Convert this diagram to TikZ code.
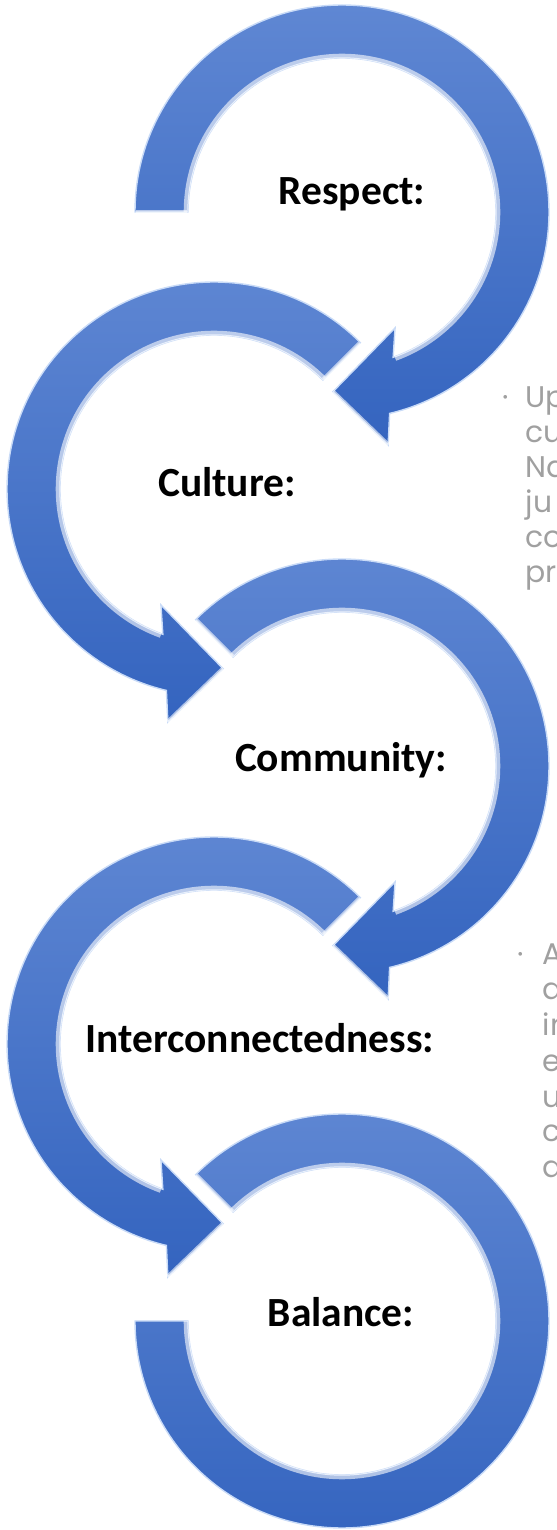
\documentclass[tikz,border=0pt]{standalone}
\usepackage{fontspec}
\setmainfont{Carlito}
\newfontfamily\thinfont{Poppins}
\usetikzlibrary{positioning}

\definecolor{arrowtop}{HTML}{5F87D3}
\definecolor{arrowbottom}{HTML}{3464BF}
\definecolor{rimblue}{HTML}{C9DBF7}
\definecolor{notegray}{HTML}{A0A0A0}

\tikzset{
  arrowband/.style={top color=arrowtop, bottom color=arrowbottom, draw=rimblue, line width=0.4pt},
  glare/.style={draw=white, line width=1.3pt, opacity=0.6},
  heading/.style={font=\fontsize{11.8}{14}\selectfont\bfseries, anchor=base, inner sep=0pt},
  noteline/.style={font=\thinfont\fontsize{8.5}{10}\selectfont, text=notegray, anchor=base west, inner sep=0pt}
}

% one round arrow around (0,0), turning clockwise from angle #1
\newcommand{\roundarrow}[1]{%
  \path[arrowband] (#1:207) arc[start angle=#1, end angle=-76.7, radius=207]
    -- (-78.8:237.5) -- (-92.9:180) -- (-65.4:127.5) -- (-70.6:154)
    arc[start angle=-70.6, end angle=#1, radius=154] -- cycle;
  \draw[glare] (#1:156) arc[start angle=#1, end angle=-70, radius=156];
  \draw[glare] (#1:155) -- (#1:206);
  \draw[glare] (-92.9:180) -- (-78.8:237.5);
}

\begin{document}
\begin{tikzpicture}[x=0.1mm, y=0.1mm]
	\useasboundingbox (0,0) rectangle (556,1530);
	\clip (0,0) rectangle (556,1530);

	% arrows
	\begin{scope}[shift={(342,1318)}]
		\roundarrow{180}
	\end{scope}
	\begin{scope}[shift={(214,1041)}, xscale=-1]
		\roundarrow{135}
	\end{scope}
	\begin{scope}[shift={(342,764)}]
		\roundarrow{135}
	\end{scope}
	\begin{scope}[shift={(214,486)}, xscale=-1]
		\roundarrow{135}
	\end{scope}
	\begin{scope}[shift={(342,209)}]
		\path[arrowband] (135:207) arc[start angle=135, end angle=-180, radius=207]
			-- (180:154) arc[start angle=-180, end angle=135, radius=154] -- cycle;
		\draw[glare] (135:156) arc[start angle=135, end angle=-180, radius=156];
		\draw[glare] (135:155) -- (135:206);
	\end{scope}

	% headings
	\node[heading] (respect) at (352,1325) {Respect:};
	\node[heading] (culture) at (227,1033) {Culture:};
	\node[heading] (community) at (341,758) {Community:};
	\node[heading] (inter) at (260,477) {Interconnectedness:};
	\node[heading] (balance) at (341,203) {Balance:};

	% notes cut by the right edge
	\node[noteline, anchor=base] (dota) at (506,1122) {·};
	\node[noteline] (up) at (525,1122) {Up};
	\node[noteline] (cu) at (525,1087) {cu};
	\node[noteline] (na) at (525,1052) {Na};
	\node[noteline] (ju) at (525,1017) {ju};
	\node[noteline] (co) at (525,982) {co};
	\node[noteline] (pr) at (525,947) {pr};

	\node[noteline, anchor=base] (dotb) at (521,565) {·};
	\node[noteline] (aa) at (542,565) {A};
	\node[noteline] (ab) at (542,530) {a};
	\node[noteline] (in) at (542,494) {in};
	\node[noteline] (ee) at (542,459) {e};
	\node[noteline] (uu) at (542,423) {u};
	\node[noteline] (cc) at (542,388) {c};
	\node[noteline] (ac) at (542,352) {a};
\end{tikzpicture}
\end{document}
